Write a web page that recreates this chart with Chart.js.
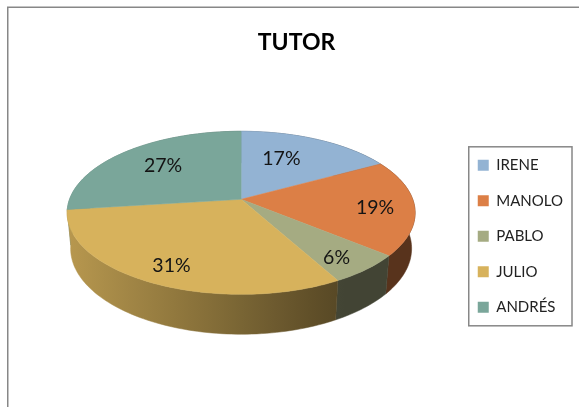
<!DOCTYPE html>
<html>
<head>
<meta charset="utf-8">
<title>TUTOR</title>
<script src="https://cdn.jsdelivr.net/npm/chart.js@4"></script>
<style>
  html, body { margin: 0; padding: 0; background: #fff; }
  canvas { display: block; }
</style>
</head>
<body>
<canvas id="myChart" width="579" height="407"></canvas>
<script>
const labels = ["IRENE", "MANOLO", "PABLO", "JULIO", "ANDRÉS"];
const percents = [17, 19, 6, 31, 27];

const sliceColors = ["#93b3d3", "#dc7f46", "#a5ab82", "#d7b25c", "#7aa69a"];

// the pie is tilted with some perspective, so arcs can't just be squashed
const tilt = { dx: 2.5, dy: -37, ax: 0.9977, by: 0.461, k: 0.1656, m: 0.02, depth: 36 };
// where each % label sits along its slice radius, plus a small nudge
const labelRadius = [0.6, 0.78, 0.8, 0.8, 0.65];
const labelNudge = [[-8, -3], [-1, 3], [-2, 4], [1, 2], [0, -2]];

function project(arc, angle, r, z) {
  const u = Math.cos(angle) * r;
  const v = -Math.sin(angle) * r;
  const w = 1 + tilt.k * v + tilt.m * z;
  return {
    x: arc.x + tilt.dx + arc.outerRadius * tilt.ax * u / w,
    y: arc.y + tilt.dy + (-arc.outerRadius * tilt.by * v + tilt.depth * z) / w
  };
}

function rim(ctx, arc, z, from, to) {
  const steps = Math.ceil(Math.abs(to - from) * 40);
  for (let i = 0; i <= steps; i++) {
    const p = project(arc, from + (to - from) * i / steps, 1, z);
    ctx.lineTo(p.x, p.y);
  }
}

function shadeColor(hex, f) {
  const n = parseInt(hex.slice(1), 16);
  const c = [(n >> 16) & 255, (n >> 8) & 255, n & 255].map(v => Math.round(v * f));
  return `rgb(${c[0]},${c[1]},${c[2]})`;
}

const pie3d = {
  id: "pie3d",
  beforeDatasetsDraw(chart) {
    const ctx = chart.ctx;
    const arcs = chart.getDatasetMeta(0).data;
    const order = arcs.map((a, i) => i).sort((a, b) =>
      Math.sin((arcs[a].startAngle + arcs[a].endAngle) / 2) - Math.sin((arcs[b].startAngle + arcs[b].endAngle) / 2));

    ctx.save();

    // side wall, back slices first
    order.forEach(i => {
      const arc = arcs[i];
      const left = project(arc, Math.PI, 1, 0).x;
      const right = project(arc, 0, 1, 0).x;
      const grad = ctx.createLinearGradient(left, 0, right, 0);
      for (let s = 0; s <= 10; s++) {
        const f = Math.max(0.4, 0.85 - 0.45 * (s / 10) * (right - left) / 271);
        grad.addColorStop(s / 10, shadeColor(sliceColors[i], f));
      }
      ctx.beginPath();
      rim(ctx, arc, 0, arc.startAngle, arc.endAngle);
      rim(ctx, arc, 1, arc.endAngle, arc.startAngle);
      ctx.closePath();
      ctx.fillStyle = grad;
      ctx.strokeStyle = grad;
      ctx.lineWidth = 0.5;
      ctx.fill();
      ctx.stroke();
    });

    // top face
    arcs.forEach((arc, i) => {
      const apex = project(arc, 0, 0, 0);
      ctx.beginPath();
      ctx.moveTo(apex.x, apex.y);
      rim(ctx, arc, 0, arc.startAngle, arc.endAngle);
      ctx.closePath();
      ctx.fillStyle = sliceColors[i];
      ctx.strokeStyle = sliceColors[i];
      ctx.lineWidth = 0.5;
      ctx.fill();
      ctx.stroke();
    });

    // % labels
    ctx.fillStyle = "#141414";
    ctx.font = "19.5px Lato";
    ctx.textAlign = "center";
    ctx.textBaseline = "middle";
    arcs.forEach((arc, i) => {
      const mid = (arc.startAngle + arc.endAngle) / 2;
      const p = project(arc, mid, labelRadius[i], 0);
      ctx.fillText(percents[i] + "%", p.x + labelNudge[i][0], p.y + labelNudge[i][1]);
    });

    ctx.restore();
    return false;
  }
};

const frame = {
  id: "frame",
  afterDraw(chart) {
    const ctx = chart.ctx;
    ctx.save();
    ctx.strokeStyle = "#878787";
    ctx.lineWidth = 1.5;

    // outer chart border, only top and left show in the crop
    ctx.beginPath();
    ctx.moveTo(7.75, chart.height);
    ctx.lineTo(7.75, 7.25);
    ctx.lineTo(chart.width, 7.25);
    ctx.stroke();

    // legend box
    const boxes = chart.legend.legendHitBoxes;
    const last = boxes[boxes.length - 1];
    const right = Math.max(...boxes.map(b => b.left + b.width));
    ctx.strokeRect(boxes[0].left - 9, boxes[0].top - 11, right - boxes[0].left + 18, last.top + last.height - boxes[0].top + 22);
    ctx.restore();
  }
};

new Chart(document.getElementById("myChart"), {
  type: "pie",
  data: {
    labels: labels,
    datasets: [{
      data: percents,
      backgroundColor: sliceColors,
      borderWidth: 0,
      radius: 172
    }]
  },
  options: {
    responsive: false,
    animation: false,
    layout: {
      padding: { left: 20, right: 6, top: 0, bottom: 4 }
    },
    plugins: {
      title: {
        display: true,
        text: "TUTOR",
        color: "#000",
        font: { family: "Lato", size: 23, weight: "bold" },
        padding: { top: 29, bottom: 13 }
      },
      legend: {
        position: "right",
        fullSize: false,
        labels: {
          color: "#222",
          font: { family: "Lato", size: 15 },
          boxWidth: 11,
          boxHeight: 11,
          padding: 20.5
        }
      },
      tooltip: { enabled: false }
    }
  },
  plugins: [pie3d, frame]
});
</script>
</body>
</html>
